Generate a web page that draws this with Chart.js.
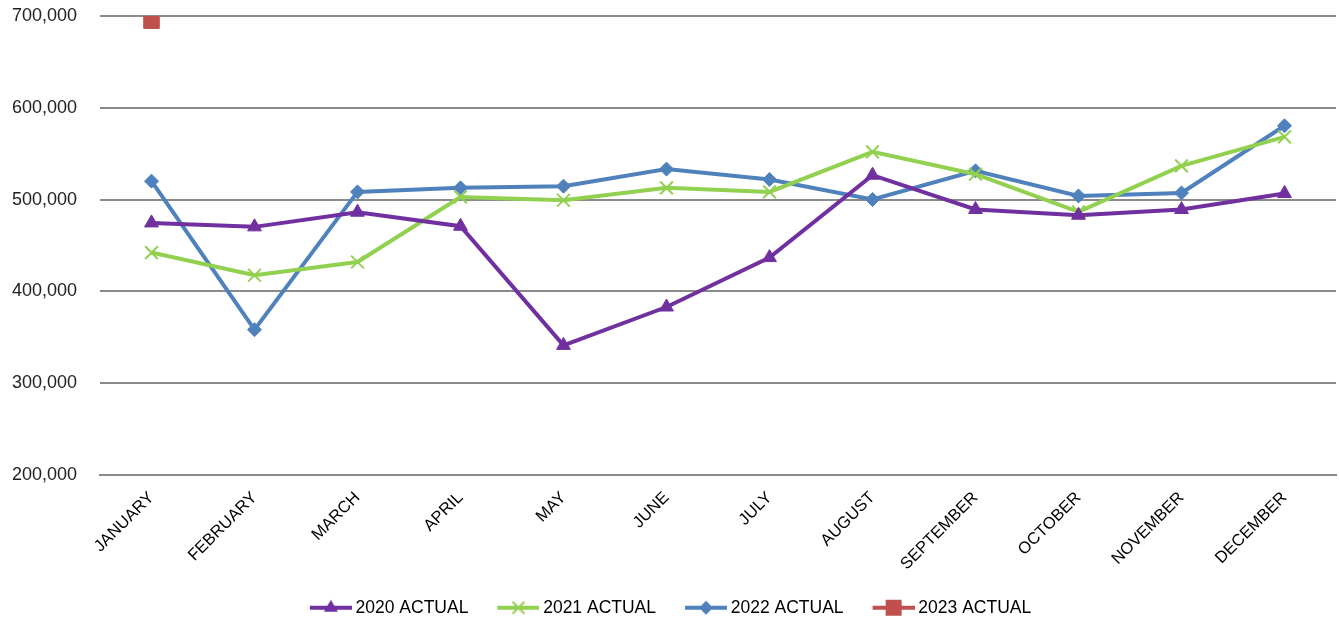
<!DOCTYPE html>
<html>
<head>
<meta charset="utf-8">
<title>Monthly Actuals</title>
<script src="https://cdn.jsdelivr.net/npm/chart.js@4"></script>
<style>
  html, body { margin: 0; padding: 0; background: #fff; }
  #wrap { width: 1339px; height: 634px; }
</style>
</head>
<body>
<div id="wrap"><canvas id="actualsChart" width="1339" height="634"></canvas></div>
<script>
const months = ['JANUARY', 'FEBRUARY', 'MARCH', 'APRIL', 'MAY', 'JUNE', 'JULY',
                'AUGUST', 'SEPTEMBER', 'OCTOBER', 'NOVEMBER', 'DECEMBER'];

const actual2020 = [474600, 470300, 486300, 471000, 341200, 383000,
                    436800, 526600, 489200, 483000, 489200, 506700];
const actual2021 = [442300, 417600, 432000, 502900, 499300, 512800,
                    508400, 552000, 527700, 486600, 536800, 568400];
const actual2022 = [520100, 358300, 508400, 512800, 514600, 533200,
                    521900, 500100, 531300, 504000, 507300, 580400];
const actual2023 = [694900, null, null, null, null, null,
                    null, null, null, null, null, null];

const yTicks = [200000, 300000, 400000, 500000, 600000, 700000];

const FONT = '"Liberation Sans", Arial, sans-serif';

// small line+marker swatch for the legend
function legendIcon(color, marker) {
    const c = document.createElement('canvas');
    c.width = 52;
    c.height = 20;
    const g = c.getContext('2d');
    const x0 = 10, x1 = 52, cx = 31, cy = 10;
    g.strokeStyle = color;
    g.fillStyle = color;
    g.lineWidth = 4;
    g.beginPath();
    g.moveTo(x0, cy);
    g.lineTo(x1, cy);
    g.stroke();
    g.beginPath();
    if (marker === 'triangle') {
        g.moveTo(cx, cy - 8);
        g.lineTo(cx + 7, cy + 4);
        g.lineTo(cx - 7, cy + 4);
        g.closePath();
        g.fill();
    } else if (marker === 'cross') {
        g.lineWidth = 2;
        g.moveTo(cx - 6, cy - 6); g.lineTo(cx + 6, cy + 6);
        g.moveTo(cx + 6, cy - 6); g.lineTo(cx - 6, cy + 6);
        g.stroke();
    } else if (marker === 'diamond') {
        g.moveTo(cx, cy - 7);
        g.lineTo(cx + 7, cy);
        g.lineTo(cx, cy + 7);
        g.lineTo(cx - 7, cy);
        g.closePath();
        g.fill();
    } else {
        g.rect(cx - 8, cy - 8, 16, 16);
        g.fill();
    }
    return c;
}

function makeSeries(label, data, color, pointStyle, radius, markerName) {
    return {
        label: label,
        data: data,
        borderColor: color,
        backgroundColor: color,
        borderWidth: 4,
        pointStyle: pointStyle,
        pointRadius: radius,
        pointBorderWidth: pointStyle === 'crossRot' ? 2 : 1,
        pointBorderColor: color,
        pointBackgroundColor: color,
        tension: 0,
        spanGaps: false,
        icon: legendIcon(color, markerName)
    };
}

document.addEventListener('DOMContentLoaded', function () {
    const ctx = document.getElementById('actualsChart').getContext('2d');

    new Chart(ctx, {
        type: 'line',
        data: {
            labels: months,
            datasets: [
                makeSeries('2020 ACTUAL', actual2020, '#7030A0', 'triangle', 8, 'triangle'),
                makeSeries('2021 ACTUAL', actual2021, '#92D050', 'crossRot', 9, 'cross'),
                makeSeries('2022 ACTUAL', actual2022, '#4F81BD', 'rectRot', 7, 'diamond'),
                makeSeries('2023 ACTUAL', actual2023, '#C0504D', 'rect', 11, 'square')
            ]
        },
        options: {
            responsive: false,
            animation: false,
            layout: {
                autoPadding: false,
                padding: { top: 0, right: 3, bottom: 14, left: 0 }
            },
            plugins: {
                tooltip: { enabled: false },
                legend: {
                    position: 'bottom',
                    maxHeight: 45,
                    labels: {
                        usePointStyle: true,
                        pointStyleWidth: 42,
                        padding: 24,
                        color: '#000',
                        font: { family: FONT, size: 17.5 },
                        generateLabels: function (chart) {
                            return chart.data.datasets.map(function (ds, i) {
                                return {
                                    text: ds.label,
                                    pointStyle: ds.icon,
                                    fillStyle: ds.borderColor,
                                    strokeStyle: ds.borderColor,
                                    lineWidth: 0,
                                    hidden: false,
                                    datasetIndex: i,
                                    fontColor: '#000'
                                };
                            });
                        }
                    }
                }
            },
            scales: {
                x: {
                    offset: true,
                    afterFit: function (scale) {
                        scale.height = 100;
                        scale.paddingLeft = 0;
                        scale.paddingRight = 0;
                    },
                    grid: { display: false, offset: true },
                    border: { display: true, color: '#8a8a8a', width: 2 },
                    ticks: {
                        color: '#000',
                        font: { family: FONT, size: 16.5 },
                        minRotation: 45,
                        maxRotation: 45,
                        padding: 5,
                        autoSkip: false
                    }
                },
                y: {
                    min: yTicks[0],
                    max: yTicks[yTicks.length - 1],
                    afterFit: function (scale) {
                        scale.width = 100;
                        scale.paddingTop = 16;
                        scale.paddingBottom = 0;
                    },
                    afterBuildTicks: function (scale) {
                        scale.ticks = yTicks.map(function (v) { return { value: v }; });
                    },
                    grid: { color: '#8a8a8a', lineWidth: 2, drawTicks: false },
                    border: { display: false },
                    ticks: {
                        color: '#222',
                        padding: 23,
                        font: { family: FONT, size: 18 },
                        callback: function (v) { return v.toLocaleString('en-US'); }
                    }
                }
            }
        }
    });
});
</script>
</body>
</html>
